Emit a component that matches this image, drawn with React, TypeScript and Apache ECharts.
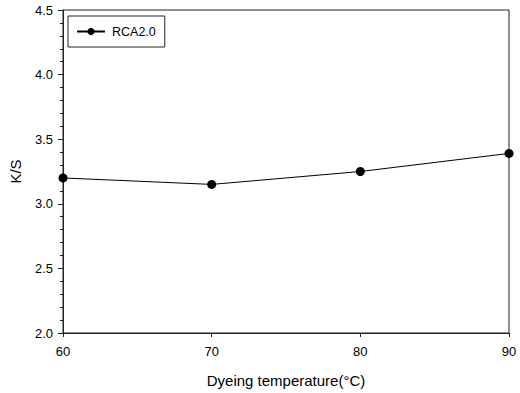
import React, { useEffect, useRef } from "react";
import * as echarts from "echarts";

const temperatures = [60, 70, 80, 90];
const ksValues = [3.2, 3.15, 3.25, 3.39];
const seriesName = "RCA2.0";
const xTicks = [60, 70, 80, 90];
const yTicks = [2.0, 2.5, 3.0, 3.5, 4.0, 4.5];

export default function App() {
  const ref = useRef<HTMLDivElement>(null);
  useEffect(() => {
    if (!ref.current) return;
    const chart = echarts.init(ref.current, null, { renderer: "svg" });
    const font = "'Liberation Sans', Arial, sans-serif";
    chart.setOption({
      animation: false,
      backgroundColor: "#fff",
      textStyle: { fontFamily: font },
      grid: {
        left: 60,
        right: 11,
        top: 10,
        bottom: 60,
        show: true,
        borderColor: "#222",
        borderWidth: 1,
        backgroundColor: "transparent",
      },
      legend: {
        show: true,
        left: 68,
        top: 16,
        orient: "vertical",
        data: [seriesName],
        itemWidth: 28,
        itemHeight: 9,
        itemGap: 0,
        padding: [9, 9, 9, 8],
        borderColor: "#222",
        borderWidth: 1,
        borderRadius: 0,
        textStyle: { fontFamily: font, fontSize: 12.5, color: "#000", padding: [0, 0, 0, 2] },
      },
      xAxis: {
        type: "value",
        min: xTicks[0],
        max: xTicks[xTicks.length - 1],
        interval: 10,
        name: "Dyeing temperature(°C)",
        nameLocation: "middle",
        nameGap: 40,
        nameTextStyle: { fontFamily: font, fontSize: 15, color: "#000" },
        axisLine: { show: true, lineStyle: { color: "#222", width: 1 } },
        axisTick: { show: true, inside: false, length: 4, lineStyle: { color: "#222" } },
        axisLabel: { fontFamily: font, fontSize: 13, color: "#000", margin: 12 },
        splitLine: { show: false },
      },
      yAxis: {
        type: "value",
        min: yTicks[0],
        max: yTicks[yTicks.length - 1],
        interval: 0.5,
        name: "K/S",
        nameLocation: "middle",
        nameGap: 40,
        nameTextStyle: { fontFamily: font, fontSize: 15, color: "#000" },
        axisLine: { show: true, lineStyle: { color: "#222", width: 1 } },
        axisTick: { show: true, inside: false, length: 5, lineStyle: { color: "#222" } },
        minorTick: { show: true, splitNumber: 5, length: 3, lineStyle: { color: "#222" } },
        axisLabel: {
          fontFamily: font,
          fontSize: 13,
          color: "#000",
          margin: 10,
          formatter: (v: number) => v.toFixed(1),
        },
        splitLine: { show: false },
      },
      series: [
        {
          name: seriesName,
          type: "line",
          data: temperatures.map((t, i) => [t, ksValues[i]]),
          symbol: "circle",
          symbolSize: 9,
          clip: false,
          lineStyle: { color: "#000", width: 1 },
          itemStyle: { color: "#000" },
        },
      ],
    });
    return () => chart.dispose();
  }, []);
  return (
    <div
      ref={ref}
      style={{ position: "fixed", left: 0, top: 0, width: 520, height: 393 }}
    />
  );
}
